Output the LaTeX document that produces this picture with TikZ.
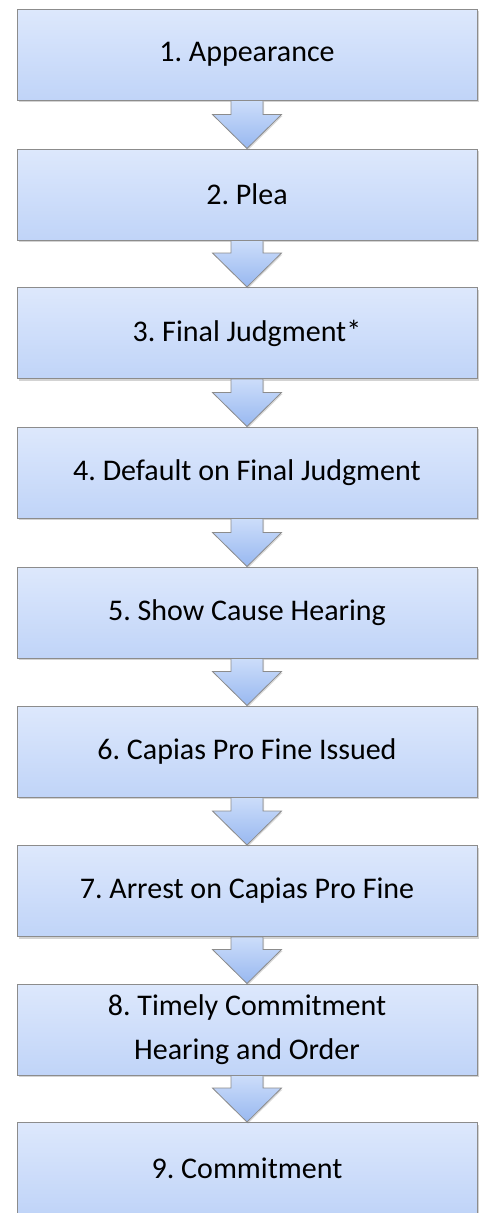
\documentclass[tikz,border=0pt]{standalone}
\usepackage{fontspec}
\setmainfont{Carlito}
\usetikzlibrary{calc,shadows}
\definecolor{boxtop}{HTML}{DDE8FC}
\definecolor{boxbot}{HTML}{C0D4F8}
\definecolor{arrtop}{HTML}{CCDDFA}
\definecolor{arrbot}{HTML}{98B8F0}
\definecolor{edgegray}{HTML}{8C8C8C}
\begin{document}
\frenchspacing
\begin{tikzpicture}[x=1pt,y=-1pt,
  stepbox/.style={draw=edgegray,line width=1pt,top color=boxtop,bottom color=boxbot,
    minimum width=460pt,minimum height=91pt,align=center,inner sep=0pt,
    font=\fontsize{30}{44}\selectfont,
    drop shadow={shadow xshift=1.5pt,shadow yshift=-2pt,opacity=.35}},
  blockarrow/.style={draw=edgegray,line width=.8pt,top color=arrtop,bottom color=arrbot,line join=miter,
    drop shadow={shadow xshift=1pt,shadow yshift=-1.5pt,opacity=.3}}]
\useasboundingbox (0,0) rectangle (482,1213);
\node[stepbox] (s1) at (247,54.5) {1. Appearance};
\node[stepbox] (s2) at (247,194.5) {2. Plea};
\node[stepbox] (s3) at (247,333) {3. Final Judgment*};
\node[stepbox] (s4) at (247,472.5) {4. Default on Final Judgment};
\node[stepbox] (s5) at (247,612.5) {5. Show Cause Hearing};
\node[stepbox] (s6) at (247,751.5) {6. Capias Pro Fine Issued};
\node[stepbox] (s7) at (247,891) {7. Arrest on Capias Pro Fine};
\node[stepbox] (s8) at (247,1029.5) {8. Timely Commitment\\Hearing and Order};
\node[stepbox] (s9) at (247,1168) {9. Commitment};
\foreach \a/\b in {s1/s2,s2/s3,s3/s4,s4/s5,s5/s6,s6/s7,s7/s8,s8/s9}
  \draw[blockarrow] ($(\a.south)+(-16,0)$) -- ($(\b.north)+(-16,-34)$)
    -- ($(\b.north)+(-34.5,-34)$) -- (\b.north) -- ($(\b.north)+(34.5,-34)$)
    -- ($(\b.north)+(16,-34)$) -- ($(\a.south)+(16,0)$) -- cycle;
\end{tikzpicture}
\end{document}
